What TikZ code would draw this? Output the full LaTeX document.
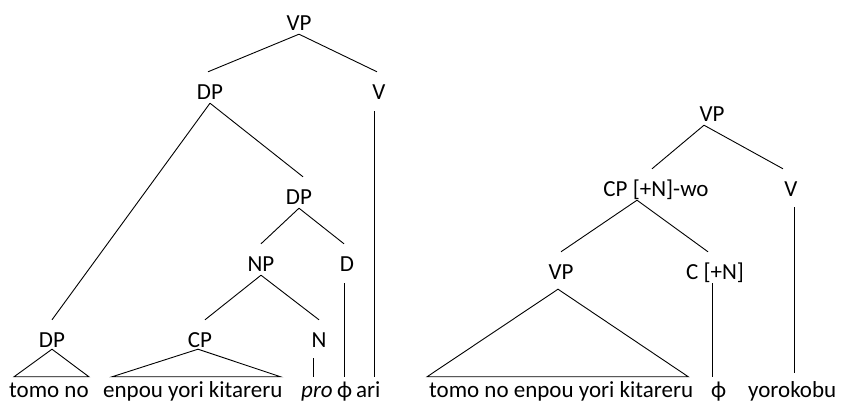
\documentclass[tikz,border=0pt]{standalone}
\usepackage{fontspec}
\setmainfont{Carlito}
\usepackage{tikz}
\usetikzlibrary{positioning, calc}

\begin{document}
\begin{tikzpicture}[
  x=1pt, y=-1pt,
  font=\fontsize{23}{27}\selectfont,
  lab/.style={anchor=base, inner sep=0pt, text height=28pt, text depth=3pt},
  word/.style={anchor=base west, inner sep=0pt, text height=21pt, text depth=0pt},
  br/.style={line width=0.9pt}
]
\useasboundingbox (0,0) rectangle (841,403);

% --- Left tree: labels ---
\node[lab] (vpl) at (299,31) {VP};
\node[lab] (dpl) at (210,100) {DP};
\node[lab] (vl) at (379,100) {V};
\node[lab] (dpm) at (299,205) {DP};
\node[lab] (npl) at (261,272) {NP};
\node[lab] (dl) at (347,272) {D};
\node[lab] (dpt) at (52,348) {DP};
\node[lab] (cpt) at (200,348) {CP};
\node[lab] (nl) at (319,348) {N};

% --- Left tree: words ---
\node[word] (tomo) at (9,398) {tomo no};
\node[word] (enpou) at (103,398) {enpou yori kitareru};
\node[word] (pro) at (301,398) {\itshape pro};
\node[word] (phil) at (337,398) {ϕ};
\node[word] (ari) at (356,398) {ari};

% --- Left tree: branches ---
\draw[br] (vpl.south) -- ([xshift=-2pt]dpl.north);
\draw[br] (vpl.south) -- ([xshift=-2pt]vl.north);
\draw[br] (dpl.south) -- (dpt.north);
\draw[br] (dpl.south) -- ([xshift=4pt]dpm.north);
\draw[br] (dpm.south) -- (npl.north);
\draw[br] (dpm.south) -- ([xshift=-3pt]dl.north);
\draw[br] (npl.south) -- ([xshift=5pt]cpt.north);
\draw[br] (npl.south) -- (nl.north);

% --- Left tree: unary lines and triangles ---
\draw[br] ([xshift=-3pt,yshift=-8pt]dl.south) -- ([xshift=-3pt]dl.south |- phil.north);
\draw[br] ([xshift=-5pt,yshift=-8pt]vl.south) -- ([xshift=-5pt]vl.south |- ari.north);
\draw[br] ([xshift=-6pt,yshift=-7pt]nl.south) -- ([xshift=-6pt]nl.south |- pro.north);
\draw[br] ([yshift=2pt]dpt.south) -- ([xshift=5pt]tomo.north west) -- (tomo.north east) -- cycle;
\draw[br] ([xshift=-2pt,yshift=2pt]cpt.south) -- ([xshift=9pt]enpou.north west) -- ([xshift=-2pt]enpou.north east) -- cycle;

% --- Right tree: labels ---
\node[lab] (vpr) at (712,122) {VP};
\node[lab] (cpwo) at (656,197) {CP [+N]-wo};
\node[lab] (vr) at (791,197) {V};
\node[lab] (vpb) at (561,280) {VP};
\node[lab] (cn) at (715,280) {C [+N]};

% --- Right tree: words ---
\node[word] (clause) at (429,398) {tomo no enpou yori kitareru};
\node[word] (phir) at (711,398) {ϕ};
\node[word] (yoro) at (748,398) {yorokobu};

% --- Right tree: branches ---
\draw[br] ([xshift=-8pt]vpr.south) -- ([xshift=-4pt]cpwo.north);
\draw[br] ([xshift=-8pt]vpr.south) -- ([xshift=-8pt]vr.north);
\draw[br] ([xshift=-19pt]cpwo.south) -- (vpb.north);
\draw[br] ([xshift=-19pt]cpwo.south) -- ([xshift=-7pt]cn.north);

% --- Right tree: unary lines and triangle ---
\draw[br] ([xshift=-3pt]cn.south) -- ([xshift=-3pt]cn.south |- phir.north);
\draw[br] ([xshift=3pt,yshift=-7pt]vr.south) -- ([xshift=3pt,yshift=4pt]vr.south |- yoro.north);
\draw[br] ([xshift=-3pt,yshift=-6pt]vpb.south) -- ([xshift=-2pt]clause.north west) -- ([xshift=-5pt]clause.north east) -- cycle;

\end{tikzpicture}
\end{document}
